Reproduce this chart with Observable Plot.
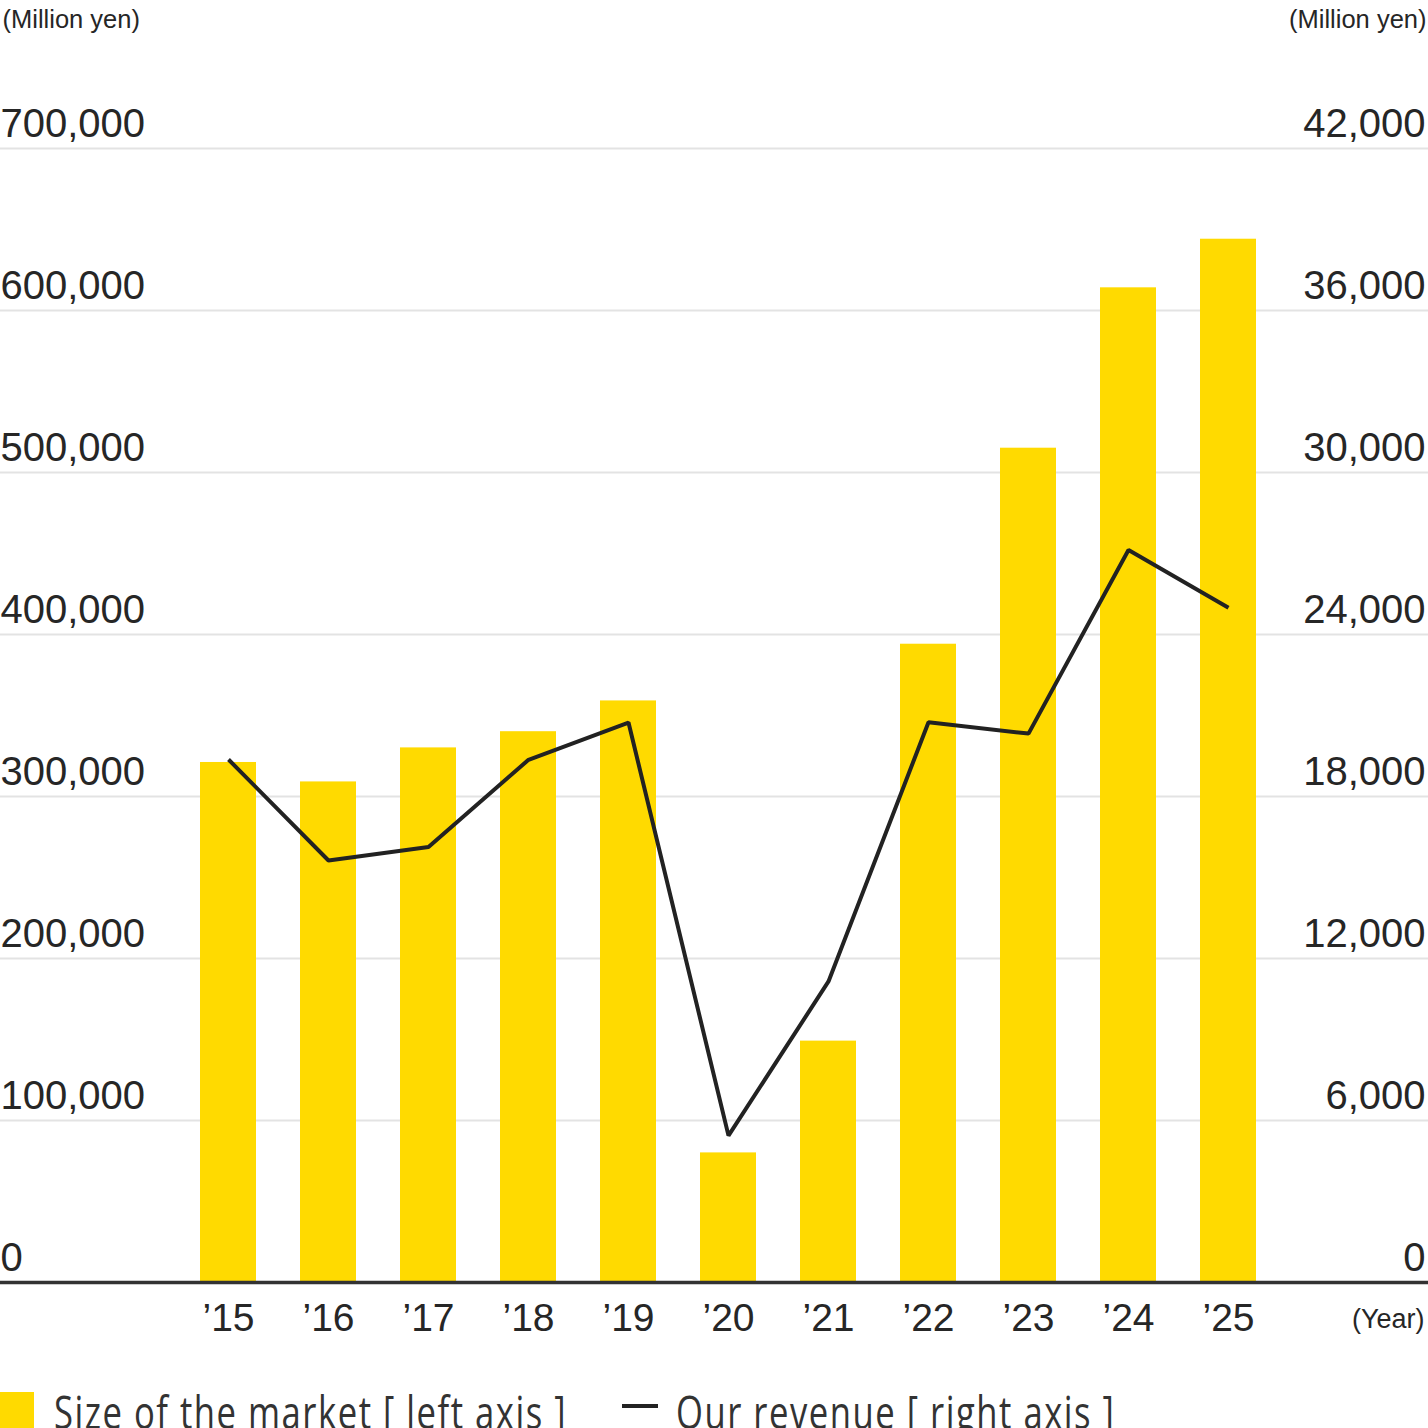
<!DOCTYPE html>
<html>
<head>
<meta charset="utf-8">
<script src="https://cdn.jsdelivr.net/npm/d3@7"></script>
<script src="https://cdn.jsdelivr.net/npm/@observablehq/plot@0.6"></script>
<style>
html, body { margin: 0; padding: 0; overflow: hidden; background: #fff; width: 1428px; height: 1428px; }
#chart svg { display: block; }
#legend { position: relative; width: 1428px; height: 40px; font-family: "Open Sans", sans-serif; font-size: 46px; letter-spacing: 2px; color: #333; }
#legend .sw { position: absolute; }
#legend .lab { position: absolute; top: 0; line-height: 46px; white-space: nowrap; transform: scaleX(0.753); transform-origin: 0 0; }
</style>
</head>
<body>
<div id="chart"></div>
<div id="legend"></div>
<script>
// ---- data ----
const years = ["’15", "’16", "’17", "’18", "’19", "’20", "’21", "’22", "’23", "’24", "’25"];
const marketSize = [321000, 309000, 330000, 340000, 359000, 80000, 149000, 394000, 515000, 614000, 644000];
const revenue = [19370, 15630, 16130, 19360, 20740, 5440, 11150, 20750, 20330, 27130, 24990];
const leftTicks = [0, 100000, 200000, 300000, 400000, 500000, 600000, 700000];
const rightTicks = [0, 6000, 12000, 18000, 24000, 30000, 36000, 42000];
const seriesNames = ["Size of the market [ left axis ]", "Our revenue [ right axis ]"];
const unitLabel = "(Million yen)";
const yearLabel = "(Year)";

const barColor = "#FFDA00";
const lineColor = "#222222";
const textColor = "#262626";

const leftMax = leftTicks[leftTicks.length - 1];
const rightMax = rightTicks[rightTicks.length - 1];
const ratio = leftMax / rightMax;

const table = years.map((y, i) => ({year: y, market: marketSize[i], revenue: revenue[i]}));

const W = 1428, H = 1388;
const mL = 178, mR = 150, mT = 148, mB = 106;

const chart = Plot.plot({
  width: W,
  height: H,
  marginLeft: mL,
  marginRight: mR,
  marginTop: mT,
  marginBottom: mB,
  style: {fontFamily: "'Liberation Sans', Arial, sans-serif", color: textColor, background: "#fff", overflow: "visible"},
  x: {type: "band", domain: years, paddingInner: 0.44, paddingOuter: 0.22, label: null},
  y: {domain: [0, leftMax], label: null},
  marks: [
    Plot.ruleY(leftTicks.slice(1), {stroke: "#e3e3e3", strokeWidth: 2, insetLeft: -mL, insetRight: -mR}),
    Plot.barY(table, {x: "year", y: "market", fill: barColor}),
    Plot.lineY(table, {x: "year", y: d => d.revenue * ratio, stroke: lineColor, strokeWidth: 4, strokeLinejoin: "miter", strokeLinecap: "butt"}),
    Plot.ruleY([0], {stroke: "#333", strokeWidth: 3.5, insetLeft: -mL, insetRight: -mR}),
    Plot.axisY(leftTicks, {anchor: "left", tickSize: 0, tickPadding: 0, textAnchor: "start", dx: -mL, dy: -12, lineAnchor: "bottom", fontSize: 40, tickFormat: d3.format(","), label: null, fill: textColor}),
    Plot.axisY(leftTicks, {anchor: "right", tickSize: 0, tickPadding: 0, textAnchor: "end", dx: mR - 3, dy: -12, lineAnchor: "bottom", fontSize: 40, tickFormat: d => d3.format(",")(rightTicks[leftTicks.indexOf(d)]), label: null, fill: textColor}),
    Plot.axisX({anchor: "bottom", tickSize: 0, tickPadding: 48, lineAnchor: "bottom", fontSize: 39, label: null, fill: textColor}),
    Plot.text([yearLabel], {frameAnchor: "bottom-right", dx: mR - 4, dy: 45, textAnchor: "end", lineAnchor: "bottom", fontSize: 27, fill: textColor}),
    Plot.text([unitLabel], {frameAnchor: "top-left", dx: -mL + 2, dy: -121, textAnchor: "start", lineAnchor: "bottom", fontSize: 25.5, fill: textColor}),
    Plot.text([unitLabel], {frameAnchor: "top-right", dx: mR - 2, dy: -121, textAnchor: "end", lineAnchor: "bottom", fontSize: 25.5, fill: textColor})
  ]
});
document.getElementById("chart").append(chart);

// ---- legend ----
const legend = document.getElementById("legend");
function add(el, css) { Object.assign(el.style, css); legend.append(el); return el; }
const sq = document.createElement("div"); sq.className = "sw";
add(sq, {left: "0px", top: "4px", width: "34px", height: "36px", background: barColor});
const l1 = document.createElement("span"); l1.className = "lab"; l1.textContent = seriesNames[0];
add(l1, {left: "54px"});
const ln = document.createElement("div"); ln.className = "sw";
add(ln, {left: "622px", top: "16px", width: "36px", height: "4px", background: lineColor});
const l2 = document.createElement("span"); l2.className = "lab"; l2.textContent = seriesNames[1];
add(l2, {left: "676px"});
</script>
</body>
</html>
